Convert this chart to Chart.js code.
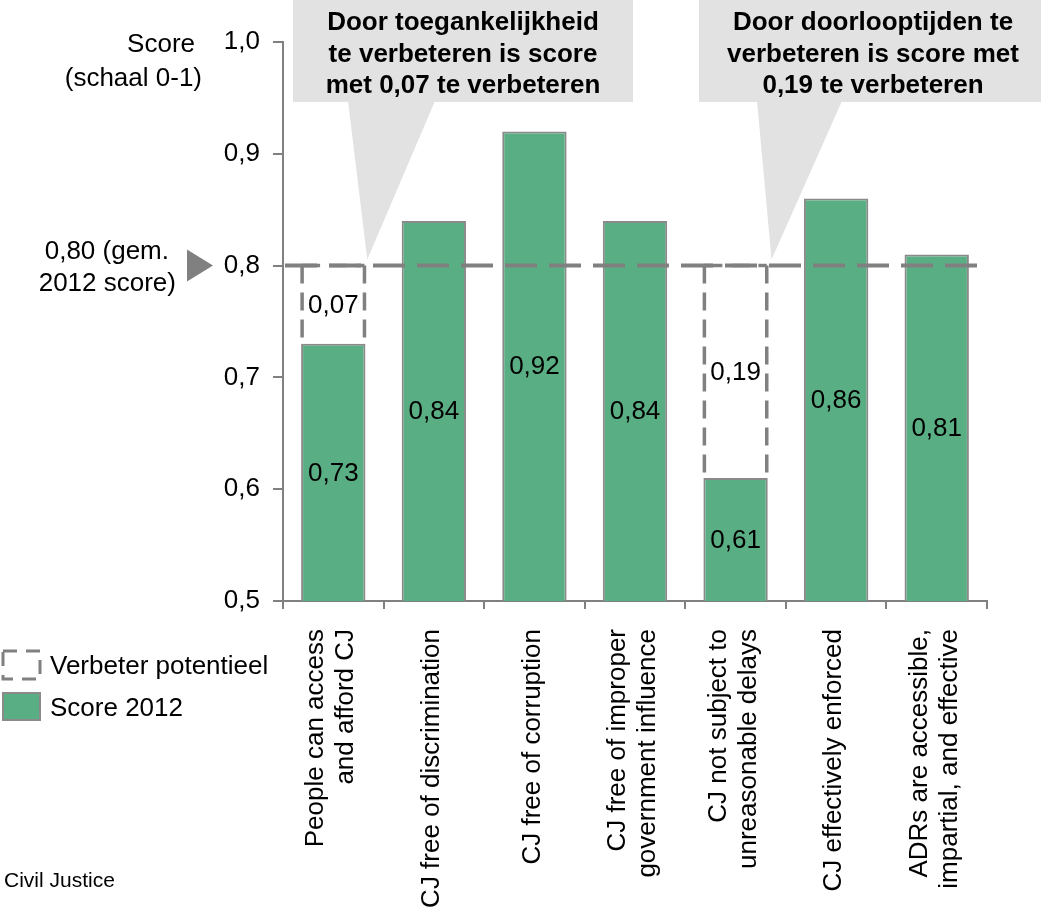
<!DOCTYPE html>
<html>
<head>
<meta charset="utf-8">
<script src="https://cdn.jsdelivr.net/npm/chart.js@4.4.0/dist/chart.umd.min.js"></script>
<style>
  body { margin: 0; background: #fff; }
  #wrap { position: relative; width: 1041px; height: 908px; overflow: hidden; font-family: "Liberation Sans", Arial, sans-serif; color: #000; }
  #grafiek { position: absolute; left: 0; top: 0; }
  .txt { position: absolute; font-size: 26px; line-height: 30px; white-space: nowrap; }
  .callout { position: absolute; top: 6px; font-size: 26px; font-weight: bold; line-height: 31.5px; text-align: center; white-space: nowrap; }
</style>
</head>
<body>
<div id="wrap">
  <canvas id="grafiek" width="1041" height="908"></canvas>

  <div class="txt" style="left:0;width:195px;top:28px;text-align:right">Score</div>
  <div class="txt" style="left:0;width:202px;top:62px;text-align:right">(schaal 0-1)</div>
  <div class="txt" style="left:0;width:169px;top:235px;text-align:right">0,80 (gem.</div>
  <div class="txt" style="left:0;width:176px;top:267px;text-align:right">2012 score)</div>

  <div class="callout" style="left:293px;width:340px">Door toegankelijkheid<br>te verbeteren is score<br>met 0,07 te verbeteren</div>
  <div class="callout" style="left:702px;width:342px">Door doorlooptijden te<br>verbeteren is score met<br>0,19 te verbeteren</div>

  <div class="txt" style="left:50px;top:650px">Verbeter potentieel</div>
  <div class="txt" style="left:50px;top:692px">Score 2012</div>
  <div class="txt" style="left:4px;top:868px;font-size:21px;line-height:24px">Civil Justice</div>
</div>

<script>
const categorieen = [
  ["People can access", "and afford CJ"],
  ["CJ free of discrimination"],
  ["CJ free of corruption"],
  ["CJ free of improper", "government influence"],
  ["CJ not subject to", "unreasonable delays"],
  ["CJ effectively enforced"],
  ["ADRs are accessible,", "impartial, and effective"]
];
const score2012 = [0.73, 0.84, 0.92, 0.84, 0.61, 0.86, 0.81];
const verbeterPotentieel = [0.07, 0, 0, 0, 0.19, 0, 0];
const gemiddelde = 0.80;
const yTicks = [0.5, 0.6, 0.7, 0.8, 0.9, 1.0];

const FONT = '"Liberation Sans", Arial, sans-serif';
const GRIJS = '#808080';
const GROEN = '#5aae83';

function komma(v, d) {
  return v.toFixed(d).replace('.', ',');
}

// callouts, gestippelde kaders, gemiddelde lijn, labels
const annotaties = {
  id: 'annotaties',
  beforeDatasetsDraw(chart) {
    const { ctx, scales: { x, y } } = chart;
    const yGem = y.getPixelForValue(gemiddelde);

    // grijze tekstballonnen
    ctx.save();
    ctx.fillStyle = '#e2e2e2';
    ctx.fillRect(293, 0, 340, 102);
    ctx.beginPath();
    ctx.moveTo(348, 101);
    ctx.lineTo(435, 101);
    ctx.lineTo(x.getPixelForValue(0) + 34, yGem - 6);
    ctx.closePath();
    ctx.fill();

    ctx.fillRect(699, 0, 342, 102);
    ctx.beginPath();
    ctx.moveTo(757, 101);
    ctx.lineTo(842, 101);
    ctx.lineTo(x.getPixelForValue(4) + 36, yGem - 6);
    ctx.closePath();
    ctx.fill();
    ctx.restore();
  },
  afterDatasetsDraw(chart) {
    const { ctx, chartArea, scales: { x, y } } = chart;
    const yGem = y.getPixelForValue(gemiddelde);

    // verbeter potentieel: gestippelde kaders (zonder onderkant)
    const metaPot = chart.getDatasetMeta(1);
    metaPot.data.forEach((bar, i) => {
      if (!verbeterPotentieel[i]) return;
      const p = bar.getProps(['x', 'y', 'base', 'width'], true);
      const l = p.x - p.width / 2 + 1;
      const r = p.x + p.width / 2 - 1;
      ctx.save();
      ctx.setLineDash([18, 9]);
      ctx.lineWidth = 3.5;
      ctx.strokeStyle = GRIJS;
      ctx.beginPath();
      ctx.moveTo(l, p.y);
      ctx.lineTo(l, p.base - 2);
      ctx.moveTo(r, p.y);
      ctx.lineTo(r, p.base - 2);
      ctx.moveTo(l, p.y);
      ctx.lineTo(r, p.y);
      ctx.stroke();
      ctx.restore();
    });

    // gemiddelde lijn
    ctx.save();
    ctx.setLineDash([32, 12]);
    ctx.lineWidth = 4;
    ctx.strokeStyle = GRIJS;
    ctx.beginPath();
    ctx.moveTo(chartArea.left + 2, yGem);
    ctx.lineTo(chartArea.right + 2, yGem);
    ctx.stroke();
    ctx.restore();

    // waarde labels
    ctx.save();
    ctx.font = '26px ' + FONT;
    ctx.fillStyle = '#000';
    ctx.textAlign = 'center';
    ctx.textBaseline = 'middle';
    chart.getDatasetMeta(0).data.forEach((bar, i) => {
      const p = bar.getProps(['x', 'y', 'base'], true);
      const onder = Math.min(p.base, chartArea.bottom);
      ctx.fillText(komma(score2012[i], 2), p.x, (p.y + onder) / 2 + 1);
    });
    metaPot.data.forEach((bar, i) => {
      if (!verbeterPotentieel[i]) return;
      const p = bar.getProps(['x', 'y', 'base'], true);
      ctx.fillText(komma(verbeterPotentieel[i], 2), p.x, (p.y + p.base) / 2 + 1);
    });
    ctx.restore();
  },
  afterDraw(chart) {
    const { ctx, chartArea, scales: { x, y } } = chart;
    const yGem = y.getPixelForValue(gemiddelde);

    // driehoekje bij gemiddelde
    ctx.save();
    ctx.fillStyle = GRIJS;
    ctx.beginPath();
    ctx.moveTo(187, yGem - 16);
    ctx.lineTo(187, yGem + 16);
    ctx.lineTo(213, yGem);
    ctx.closePath();
    ctx.fill();
    ctx.restore();

    // categorie labels, verticaal
    ctx.save();
    ctx.font = '26px ' + FONT;
    ctx.fillStyle = '#000';
    ctx.textAlign = 'right';
    ctx.textBaseline = 'middle';
    categorieen.forEach((regels, i) => {
      const cx = x.getPixelForValue(i) - 2;
      regels.forEach((regel, j) => {
        const px = cx + (j - (regels.length - 1) / 2) * 30;
        ctx.save();
        ctx.translate(px, chartArea.bottom + 28);
        ctx.rotate(-Math.PI / 2);
        ctx.fillText(regel, 0, 0);
        ctx.restore();
      });
    });
    ctx.restore();

    // legenda
    ctx.save();
    ctx.setLineDash([14, 9]);
    ctx.lineWidth = 3;
    ctx.strokeStyle = GRIJS;
    ctx.strokeRect(3, 651, 37, 28);
    ctx.restore();
    ctx.save();
    ctx.fillStyle = GROEN;
    ctx.fillRect(3, 693, 37, 27);
    ctx.lineWidth = 2;
    ctx.strokeStyle = '#8a8a8a';
    ctx.strokeRect(3, 693, 37, 27);
    ctx.restore();
  }
};

new Chart(document.getElementById('grafiek'), {
  type: 'bar',
  data: {
    labels: categorieen,
    datasets: [
      {
        label: 'Score 2012',
        data: score2012,
        backgroundColor: GROEN,
        borderColor: '#8a8a8a',
        borderWidth: 2,
        barPercentage: 0.64,
        categoryPercentage: 1
      },
      {
        label: 'Verbeter potentieel',
        data: verbeterPotentieel,
        backgroundColor: 'rgba(0,0,0,0)',
        borderWidth: 0,
        barPercentage: 0.64,
        categoryPercentage: 1
      }
    ]
  },
  options: {
    responsive: false,
    animation: false,
    events: [],
    layout: { padding: { top: 42, right: 54, left: 0, bottom: 0 } },
    plugins: {
      legend: { display: false },
      tooltip: { enabled: false },
      title: { display: false }
    },
    scales: {
      x: {
        stacked: true,
        grid: { display: true, drawOnChartArea: false, offset: true, tickLength: 8, color: GRIJS, lineWidth: 2 },
        border: { color: GRIJS, width: 2 },
        ticks: { display: false },
        afterFit: s => { s.height = 307; }
      },
      y: {
        stacked: true,
        min: 0.5,
        max: 1.0,
        grid: { display: true, drawOnChartArea: false, tickLength: 10, color: GRIJS, lineWidth: 2 },
        border: { color: GRIJS, width: 2 },
        afterBuildTicks: s => { s.ticks = yTicks.map(v => ({ value: v })); },
        ticks: {
          padding: 13,
          color: '#000',
          font: { family: FONT, size: 26 },
          callback: v => komma(v, 1)
        },
        afterFit: s => { s.width = 283; }
      }
    }
  },
  plugins: [annotaties]
});
</script>
</body>
</html>
